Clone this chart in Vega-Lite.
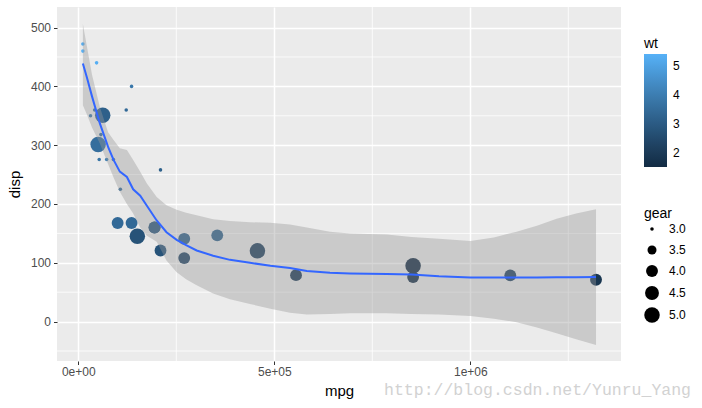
{
  "$schema": "https://vega.github.io/schema/vega-lite/v6.json",
  "width": 564,
  "height": 354,
  "autosize": {"type": "none"},
  "padding": {"left": 57, "top": 7, "right": 81, "bottom": 47},
  "background": "white",
  "title": {
    "text": "http://blog.csdn.net/Yunru_Yang",
    "orient": "bottom",
    "anchor": "end",
    "frame": "group",
    "font": "Liberation Mono",
    "fontSize": 16.5,
    "fontWeight": "normal",
    "color": "#D2D2D2",
    "offset": 0,
    "dx": 70,
    "dy": -17
  },
  "config": {
    "view": {"fill": "#EBEBEB", "stroke": null},
    "axis": {
      "domain": false,
      "labelFont": "Liberation Sans",
      "labelFontSize": 12,
      "labelColor": "#4D4D4D",
      "tickColor": "#333333",
      "tickSize": 3.5,
      "tickWidth": 1,
      "gridColor": "white",
      "gridWidth": 1.5,
      "titleFont": "Liberation Sans",
      "titleFontSize": 15,
      "titleFontWeight": "normal",
      "titleColor": "black"
    },
    "legend": {
      "titleFont": "Liberation Sans",
      "titleFontSize": 14,
      "titleFontWeight": "normal",
      "titleColor": "black",
      "labelFont": "Liberation Sans",
      "labelFontSize": 12,
      "labelColor": "black",
      "padding": 0
    }
  },
  "datasets": {
    "cars": [
      {"mpg": 194481, "disp": 160, "wt": 2.620, "gear": 4},
      {"mpg": 194481, "disp": 160, "wt": 2.875, "gear": 4},
      {"mpg": 270234, "disp": 108, "wt": 2.320, "gear": 4},
      {"mpg": 209727, "disp": 258, "wt": 3.215, "gear": 3},
      {"mpg": 122283, "disp": 360, "wt": 3.440, "gear": 3},
      {"mpg": 107328, "disp": 225, "wt": 3.460, "gear": 3},
      {"mpg": 41816, "disp": 360, "wt": 3.570, "gear": 3},
      {"mpg": 354454, "disp": 146.7, "wt": 3.190, "gear": 4},
      {"mpg": 270234, "disp": 140.8, "wt": 3.150, "gear": 4},
      {"mpg": 135895, "disp": 167.6, "wt": 3.440, "gear": 4},
      {"mpg": 100388, "disp": 167.6, "wt": 3.440, "gear": 4},
      {"mpg": 72339, "disp": 275.8, "wt": 4.070, "gear": 3},
      {"mpg": 89575, "disp": 275.8, "wt": 3.730, "gear": 3},
      {"mpg": 53379, "disp": 275.8, "wt": 3.780, "gear": 3},
      {"mpg": 11699, "disp": 472, "wt": 5.250, "gear": 3},
      {"mpg": 11699, "disp": 460, "wt": 5.424, "gear": 3},
      {"mpg": 46695, "disp": 440, "wt": 5.345, "gear": 3},
      {"mpg": 1101996, "disp": 78.7, "wt": 2.200, "gear": 4},
      {"mpg": 854072, "disp": 75.7, "wt": 1.615, "gear": 4},
      {"mpg": 1320684, "disp": 71.1, "wt": 1.835, "gear": 4},
      {"mpg": 213675, "disp": 120.1, "wt": 2.465, "gear": 3},
      {"mpg": 57720, "disp": 318, "wt": 3.520, "gear": 3},
      {"mpg": 53379, "disp": 304, "wt": 3.435, "gear": 3},
      {"mpg": 31290, "disp": 350, "wt": 3.840, "gear": 3},
      {"mpg": 135895, "disp": 400, "wt": 3.845, "gear": 3},
      {"mpg": 555457, "disp": 79, "wt": 1.935, "gear": 4},
      {"mpg": 456976, "disp": 120.3, "wt": 2.140, "gear": 5},
      {"mpg": 854072, "disp": 95.1, "wt": 1.513, "gear": 5},
      {"mpg": 62320, "disp": 351, "wt": 3.170, "gear": 5},
      {"mpg": 150614, "disp": 145, "wt": 2.770, "gear": 5},
      {"mpg": 50625, "disp": 301, "wt": 3.570, "gear": 5},
      {"mpg": 209727, "disp": 121, "wt": 2.780, "gear": 4}
    ],
    "smooth": [
      {"mpg": 11699, "fit": 439, "lo": 368, "hi": 506},
      {"mpg": 22000, "fit": 415, "lo": 352, "hi": 468},
      {"mpg": 35000, "fit": 383, "lo": 330, "hi": 420},
      {"mpg": 55000, "fit": 337, "lo": 303, "hi": 365},
      {"mpg": 76000, "fit": 297, "lo": 268, "hi": 322},
      {"mpg": 90000, "fit": 275, "lo": 245, "hi": 309},
      {"mpg": 106000, "fit": 255, "lo": 221, "hi": 295},
      {"mpg": 124000, "fit": 246, "lo": 200, "hi": 292},
      {"mpg": 140000, "fit": 225, "lo": 184, "hi": 275},
      {"mpg": 158000, "fit": 214, "lo": 160, "hi": 255},
      {"mpg": 175000, "fit": 197, "lo": 146, "hi": 235},
      {"mpg": 200000, "fit": 172, "lo": 136, "hi": 212},
      {"mpg": 225000, "fit": 152, "lo": 104, "hi": 198},
      {"mpg": 251000, "fit": 139, "lo": 84, "hi": 190},
      {"mpg": 275000, "fit": 130, "lo": 72, "hi": 185},
      {"mpg": 302000, "fit": 121, "lo": 62, "hi": 181},
      {"mpg": 344000, "fit": 112, "lo": 48, "hi": 174},
      {"mpg": 387000, "fit": 105, "lo": 38, "hi": 171},
      {"mpg": 438000, "fit": 100, "lo": 30, "hi": 169},
      {"mpg": 490000, "fit": 95, "lo": 22, "hi": 168},
      {"mpg": 540000, "fit": 91, "lo": 15, "hi": 165},
      {"mpg": 583000, "fit": 86, "lo": 12, "hi": 160},
      {"mpg": 642000, "fit": 83, "lo": 13, "hi": 153},
      {"mpg": 693000, "fit": 82, "lo": 14, "hi": 150},
      {"mpg": 787000, "fit": 81, "lo": 14, "hi": 148},
      {"mpg": 850000, "fit": 80, "lo": 13, "hi": 144},
      {"mpg": 920000, "fit": 77, "lo": 12, "hi": 141},
      {"mpg": 1000000, "fit": 75, "lo": 9.5, "hi": 137},
      {"mpg": 1060000, "fit": 75, "lo": 5, "hi": 143},
      {"mpg": 1118000, "fit": 75, "lo": -1, "hi": 153},
      {"mpg": 1170000, "fit": 75, "lo": -10, "hi": 163},
      {"mpg": 1220000, "fit": 75.5, "lo": -20, "hi": 175},
      {"mpg": 1270000, "fit": 75.5, "lo": -30, "hi": 184},
      {"mpg": 1320684, "fit": 76, "lo": -40, "hi": 191}
    ],
    "minorx": [{"v": 250000}, {"v": 750000}, {"v": 1250000}],
    "minory": [{"v": -50}, {"v": 50}, {"v": 150}, {"v": 250}, {"v": 350}, {"v": 450}]
  },
  "encoding": {
    "x": {
      "field": "mpg",
      "type": "quantitative",
      "title": "mpg",
      "scale": {"domain": [-54300, 1384400], "nice": false, "zero": false},
      "axis": {
        "values": [0, 500000, 1000000],
        "labelExpr": "datum.value == 0 ? '0e+00' : datum.value == 500000 ? '5e+05' : '1e+06'",
        "labelPadding": 2,
        "titlePadding": 6,
        "labelFlush": false,
        "labelOverlap": false
      }
    }
  },
  "layer": [
    {
      "data": {"name": "minorx"},
      "mark": {"type": "rule", "color": "white", "strokeWidth": 0.8},
      "encoding": {
        "x": {"field": "v", "type": "quantitative", "title": "mpg"}
      }
    },
    {
      "data": {"name": "minory"},
      "mark": {"type": "rule", "color": "white", "strokeWidth": 0.8},
      "encoding": {
        "x": null,
        "y": {
          "field": "v",
          "type": "quantitative",
          "title": "disp",
          "scale": {"domain": [-67, 535], "nice": false, "zero": false},
          "axis": {"values": [0, 100, 200, 300, 400, 500], "labelPadding": 3, "titlePadding": 8, "labelOverlap": false, "labelFlush": false}
        }
      }
    },
    {
      "data": {"name": "cars"},
      "mark": {"type": "circle", "opacity": 1, "strokeWidth": 0},
      "encoding": {
        "y": {
          "field": "disp",
          "type": "quantitative",
          "title": "disp",
          "scale": {"domain": [-67, 535], "nice": false, "zero": false},
          "axis": {"values": [0, 100, 200, 300, 400, 500], "labelPadding": 3, "titlePadding": 8, "labelOverlap": false, "labelFlush": false}
        },
        "color": {
          "field": "wt",
          "type": "quantitative",
          "scale": {"domain": [1.513, 5.424], "range": ["#132B43", "#56B1F7"], "interpolate": "lab"},
          "legend": {
            "orient": "none",
            "legendX": 587,
            "legendY": 30,
            "values": [2, 3, 4, 5],
            "gradientLength": 113,
            "gradientThickness": 23,
            "labelOffset": 6,
            "titlePadding": 3,
            "direction": "vertical"
          }
        },
        "size": {
          "field": "gear",
          "type": "quantitative",
          "scale": {"type": "log", "domain": [3, 5], "range": [12.6, 240]},
          "legend": {
            "orient": "none",
            "legendX": 587,
            "legendY": 200,
            "values": [3, 3.5, 4, 4.5, 5],
            "format": ".1f",
            "symbolFillColor": "black",
            "symbolStrokeColor": "black",
            "symbolStrokeWidth": 0,
            "symbolOpacity": 1,
            "gridAlign": "all",
            "rowPadding": 5,
            "labelOffset": 9,
            "titlePadding": 2
          }
        }
      }
    },
    {
      "data": {"name": "smooth"},
      "mark": {"type": "area", "color": "#999999", "opacity": 0.4},
      "encoding": {
        "y": {
          "field": "lo",
          "type": "quantitative",
          "title": "disp",
          "scale": {"domain": [-67, 535], "nice": false, "zero": false},
          "axis": {"values": [0, 100, 200, 300, 400, 500], "labelPadding": 3, "titlePadding": 8, "labelOverlap": false, "labelFlush": false}
        },
        "y2": {"field": "hi"}
      }
    },
    {
      "data": {"name": "smooth"},
      "mark": {"type": "line", "color": "#3366FF", "strokeWidth": 2},
      "encoding": {
        "y": {
          "field": "fit",
          "type": "quantitative",
          "title": "disp",
          "scale": {"domain": [-67, 535], "nice": false, "zero": false},
          "axis": {"values": [0, 100, 200, 300, 400, 500], "labelPadding": 3, "titlePadding": 8, "labelOverlap": false, "labelFlush": false}
        }
      }
    }
  ]
}
